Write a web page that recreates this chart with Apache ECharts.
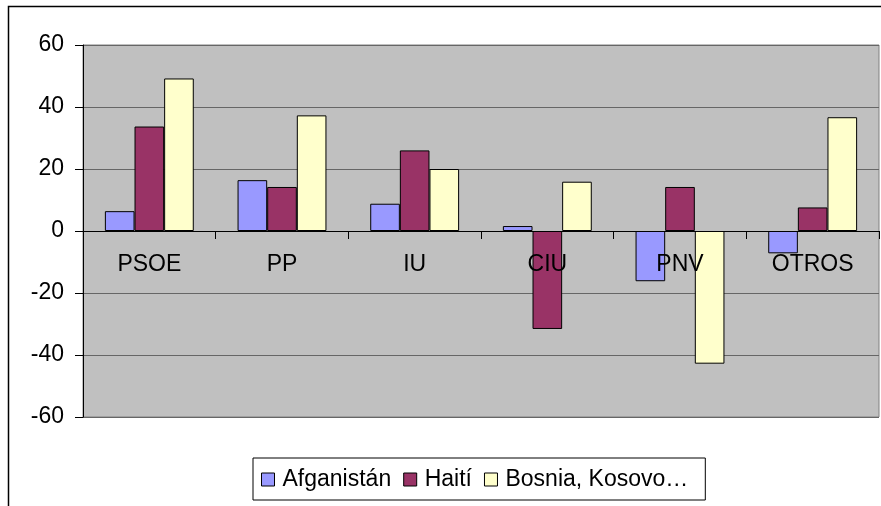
<!DOCTYPE html>
<html>
<head>
<meta charset="utf-8">
<title>Chart</title>
<script src="https://cdn.jsdelivr.net/npm/echarts@6/dist/echarts.min.js"></script>
<style>
    html, body { margin: 0; padding: 0; background: #ffffff; }
    #chart { width: 881px; height: 506px; }
</style>
</head>
<body>
<div id="chart"></div>
<script>
"use strict";
var categories = ['PSOE', 'PP', 'IU', 'CIU', 'PNV', 'OTROS'];
var seriesNames = ['Afganistán', 'Haití', 'Bosnia, Kosovo…'];
var afganistan = [6.4, 16.4, 8.8, 1.6, -16.2, -7.2];
var haiti = [33.7, 14.2, 26, -31.6, 14.2, 7.6];
var bosnia = [49.2, 37.3, 20, 15.9, -42.8, 36.7];
var yTicks = { min: -60, max: 60, step: 20 };

var colors = ['#9999ff', '#993366', '#ffffcc'];
var font = "'Liberation Sans', Arial, sans-serif";
var gridTop = 45, gridBottom = 89, chartHeight = 506;

function makeSeries(name, data, color) {
    return {
        name: name,
        type: 'bar',
        data: data,
        barGap: 0,
        barCategoryGap: '33%',
        itemStyle: {
            color: color,
            borderColor: '#000000',
            borderWidth: 1
        }
    };
}

// the category axis sits on the zero line; shift it up from the grid bottom
var plotHeight = chartHeight - gridTop - gridBottom;
var zeroOffset = -plotHeight * (0 - yTicks.min) / (yTicks.max - yTicks.min);

var chart = echarts.init(document.getElementById('chart'));
chart.setOption({
    animation: false,
    textStyle: { fontFamily: font },
    // outer chart frame (right and bottom edges fall outside the picture)
    graphic: [{
        type: 'rect',
        shape: { x: 8.5, y: 6.5, width: 900, height: 600 },
        style: { fill: null, stroke: '#000000', lineWidth: 1.5 },
        silent: true
    }],
    grid: {
        left: 83,
        top: gridTop,
        right: 2,
        bottom: gridBottom,
        show: true,
        backgroundColor: '#c0c0c0',
        borderColor: '#808080',
        borderWidth: 1
    },
    legend: {
        data: seriesNames,
        left: 253,
        top: 458,
        padding: [10, 17, 9, 8],
        borderColor: '#000000',
        borderWidth: 1,
        backgroundColor: '#ffffff',
        itemWidth: 13,
        itemHeight: 13,
        itemGap: 12,
        icon: 'rect',
        itemStyle: { borderColor: '#000000', borderWidth: 1 },
        textStyle: { fontSize: 23, color: '#000000', fontFamily: font, padding: [0, 0, 0, 3] }
    },
    xAxis: {
        type: 'category',
        data: categories,
        position: 'bottom',
        offset: zeroOffset,
        z: 10, // labels are written over the bars
        axisLine: { onZero: false, lineStyle: { color: '#000000', width: 1 } },
        axisTick: { show: true, length: 8, lineStyle: { color: '#000000' } },
        axisLabel: { fontSize: 23, color: '#000000', margin: 22, fontFamily: font },
        splitLine: { show: false }
    },
    yAxis: {
        type: 'value',
        min: yTicks.min,
        max: yTicks.max,
        interval: yTicks.step,
        axisLine: { show: true, lineStyle: { color: '#000000', width: 1 } },
        axisTick: { show: true, length: 8, lineStyle: { color: '#000000' } },
        axisLabel: { fontSize: 23, color: '#000000', margin: 19, fontFamily: font },
        splitLine: { show: true, lineStyle: { color: '#666666', width: 1 } }
    },
    series: [
        makeSeries(seriesNames[0], afganistan, colors[0]),
        makeSeries(seriesNames[1], haiti, colors[1]),
        makeSeries(seriesNames[2], bosnia, colors[2])
    ]
});
</script>
</body>
</html>
